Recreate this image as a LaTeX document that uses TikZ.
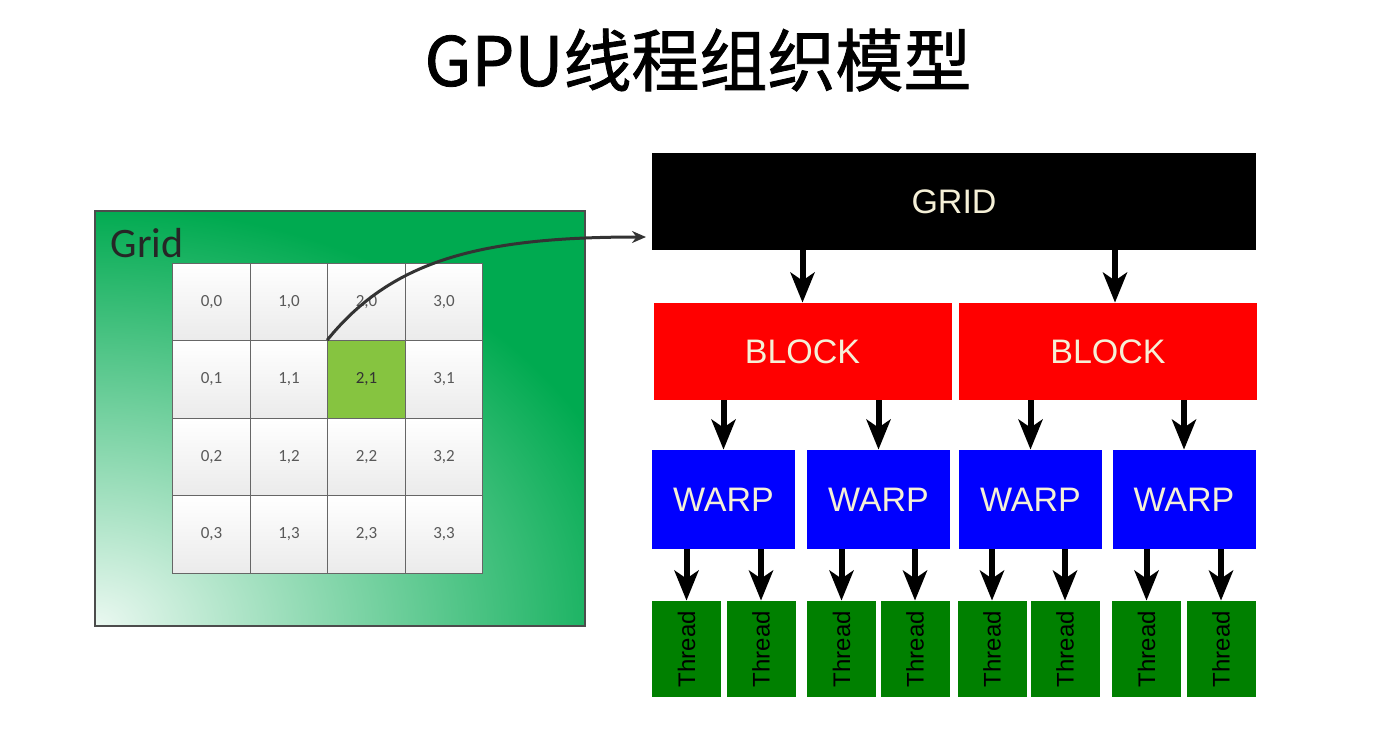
\documentclass[tikz,border=0pt]{standalone}
\usepackage{fontspec}
\usepackage{tikz}
\usepackage{xcolor}
\usetikzlibrary{arrows.meta}
\newfontfamily\cjk{Noto Sans CJK SC}[FakeBold=1.2]
\newfontfamily\arial{Liberation Sans}
\newfontfamily\calibri{Carlito}
\definecolor{gridgreen}{RGB}{0,170,80}
\definecolor{cellgreen}{RGB}{134,196,64}
\definecolor{threadgreen}{RGB}{0,128,0}
\definecolor{blockred}{RGB}{255,0,0}
\definecolor{warpblue}{RGB}{0,0,255}
\definecolor{cream}{RGB}{245,240,215}
\begin{document}
\begin{tikzpicture}[x=0.5pt,y=-0.5pt,
	cell/.style = {draw=black!60, line width=0.6pt, inner sep=0, minimum size=38.75pt, top color=white, bottom color=black!8, font=\calibri\fontsize{8.5}{8.5}\selectfont, text=black!65},
	lvl/.style = {inner sep=0, font=\arial\fontsize{17}{17}\selectfont, text=cream},
	grid box/.style = {lvl, fill=black, minimum width=302pt, minimum height=48.5pt},
	block box/.style = {lvl, fill=blockred, minimum width=149pt, minimum height=48.5pt},
	warp box/.style = {lvl, fill=warpblue, minimum width=71.5pt, minimum height=49.5pt},
	thread box/.style = {inner sep=0, fill=threadgreen, minimum width=34.5pt, minimum height=48pt, font=\arial\fontsize{12}{12}\selectfont},
	arr/.style = {-{Stealth[length=15pt,width=12pt,inset=4pt]}, line width=3pt},
	link/.style = {-{Stealth[length=7pt,width=6pt]}, line width=1.5pt, black!80}]
	\useasboundingbox (0,0) rectangle (1390,736);
	\node[font=\cjk\fontsize{34}{34}\selectfont] (title) at (698,60) {GPU线程组织模型};
	\begin{scope}
		\clip (95,211) rectangle (585,626);
		\fill[gridgreen] (95,211) rectangle (585,626);
		\shade[inner color=white!92!gridgreen, outer color=gridgreen] (-465,206) rectangle (655,1046);
	\end{scope}
	\draw[black!70, line width=0.75pt] (95,211) rectangle (585,626);
	\node[font=\calibri\fontsize{21}{21}\selectfont, text=black!85] (gridlbl) at (147,243) {Grid};
	\node[cell] (c00) at (211.5,302) {0,0};
	\node[cell] (c10) at (289,302) {1,0};
	\node[cell] (c20) at (366.5,302) {2,0};
	\node[cell] (c30) at (444,302) {3,0};
	\node[cell] (c01) at (211.5,379.5) {0,1};
	\node[cell] (c11) at (289,379.5) {1,1};
	\node[cell,top color=cellgreen,bottom color=cellgreen,text=black!80] (c21) at (366.5,379.5) {2,1};
	\node[cell] (c31) at (444,379.5) {3,1};
	\node[cell] (c02) at (211.5,457) {0,2};
	\node[cell] (c12) at (289,457) {1,2};
	\node[cell] (c22) at (366.5,457) {2,2};
	\node[cell] (c32) at (444,457) {3,2};
	\node[cell] (c03) at (211.5,534.5) {0,3};
	\node[cell] (c13) at (289,534.5) {1,3};
	\node[cell] (c23) at (366.5,534.5) {2,3};
	\node[cell] (c33) at (444,534.5) {3,3};
	\node[grid box] (grid) at (954,201.5) {GRID};
	\node[block box] (b1) at (802.5,351.5) {BLOCK};
	\node[block box] (b2) at (1108,351.5) {BLOCK};
	\node[warp box] (w1) at (723.5,499.5) {WARP};
	\node[warp box] (w2) at (878.5,499.5) {WARP};
	\node[warp box] (w3) at (1030.5,499.5) {WARP};
	\node[warp box] (w4) at (1184,499.5) {WARP};
	\node[thread box] (t1) at (686.5,649) {\rotatebox{90}{Thread}};
	\node[thread box] (t2) at (761,649) {\rotatebox{90}{Thread}};
	\node[thread box] (t3) at (841.5,649) {\rotatebox{90}{Thread}};
	\node[thread box] (t4) at (915,649) {\rotatebox{90}{Thread}};
	\node[thread box] (t5) at (992,649) {\rotatebox{90}{Thread}};
	\node[thread box] (t6) at (1065,649) {\rotatebox{90}{Thread}};
	\node[thread box] (t7) at (1146.5,649) {\rotatebox{90}{Thread}};
	\node[thread box] (t8) at (1221,649) {\rotatebox{90}{Thread}};
	\coordinate (tip) at (646,237);
	\draw[link] (c21.north west) .. controls (392,260) and (480,237) .. (tip);
	\draw[arr] (b1.north |- grid.south) -- (b1.north);
	\draw[arr] ([xshift=3.5pt]b2.north |- grid.south) -- ([xshift=3.5pt]b2.north);
	\draw[arr] (w1.north |- b1.south) -- (w1.north);
	\draw[arr] (w2.north |- b1.south) -- (w2.north);
	\draw[arr] (w3.north |- b2.south) -- (w3.north);
	\draw[arr] (w4.north |- b2.south) -- (w4.north);
	\draw[arr] (t1.north |- w1.south) -- (t1.north);
	\draw[arr] (t2.north |- w1.south) -- (t2.north);
	\draw[arr] (t3.north |- w2.south) -- (t3.north);
	\draw[arr] (t4.north |- w2.south) -- (t4.north);
	\draw[arr] (t5.north |- w3.south) -- (t5.north);
	\draw[arr] (t6.north |- w3.south) -- (t6.north);
	\draw[arr] (t7.north |- w4.south) -- (t7.north);
	\draw[arr] (t8.north |- w4.south) -- (t8.north);
\end{tikzpicture}
\end{document}
